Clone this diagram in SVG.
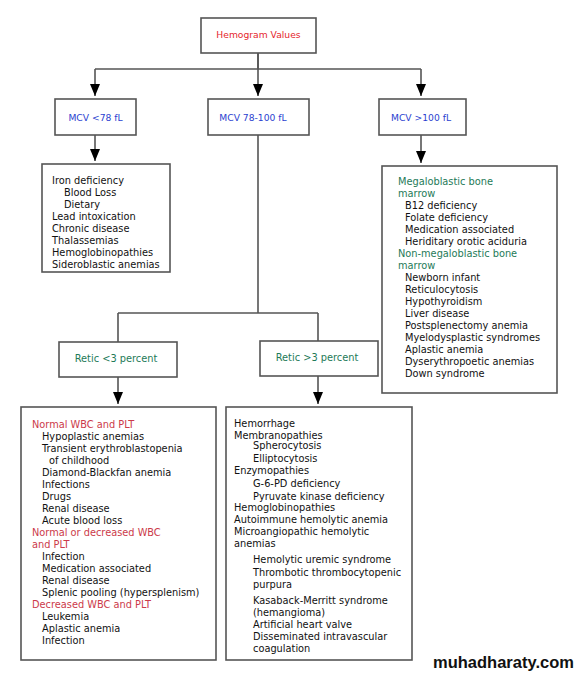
<svg xmlns="http://www.w3.org/2000/svg" width="582" height="678" viewBox="0 0 582 678">
<defs>
<marker id="ah" markerUnits="userSpaceOnUse" markerWidth="14" markerHeight="12" viewBox="0 0 14 12" refX="13" refY="6" orient="auto">
<path d="M1,1 L13,6 L1,11 Z" fill="#000"/>
</marker>
</defs>
<style>
.box{fill:#fff;stroke:#555;stroke-width:1.6}
.ln{fill:none;stroke:#555;stroke-width:1.6}
.arr{fill:none;stroke:#555;stroke-width:1.6}
text{font-family:"DejaVu Sans","Verdana",sans-serif;font-size:9.8px;fill:#111}
.lbl{font-size:9.2px;text-anchor:middle}
.rl{font-size:9.8px}
.red{fill:#e5252c}
.blue{fill:#2b3fd0}
.green{fill:#1e7a58}
.crim{fill:#cc3a4a}
.wm{font-family:"Liberation Sans",Arial,sans-serif;font-weight:bold;font-size:16.5px;fill:#111}
</style>
<rect width="582" height="678" fill="#fff"/>
<g id="connectors">
<path class="ln" d="M258,53 V69 M95,69 H421"/>
<path class="arr" d="M95,69 V96" marker-end="url(#ah)"/>
<path class="arr" d="M258,53 V96" marker-end="url(#ah)"/>
<path class="arr" d="M421,69 V96" marker-end="url(#ah)"/>
<path class="arr" d="M95,135 V161" marker-end="url(#ah)"/>
<path class="arr" d="M421,135 V163" marker-end="url(#ah)"/>
<path class="ln" d="M258,135 V313 M118,313 H318 M118,313 V342 M318,313 V341"/>
<path class="arr" d="M118,377 V404" marker-end="url(#ah)"/>
<path class="arr" d="M318,376 V404" marker-end="url(#ah)"/>
</g>
<g id="hemogram">
<rect class="box" x="201" y="18" width="115" height="35"/>
<text class="lbl red" x="258.5" y="38">Hemogram Values</text>
</g>
<g id="mcv-low">
<rect class="box" x="55" y="99" width="81" height="36"/>
<text class="lbl blue" x="95.5" y="121">MCV &lt;78 fL</text>
</g>
<g id="mcv-mid">
<rect class="box" x="208" y="99" width="101" height="36"/>
<text class="lbl blue" x="253" y="121">MCV 78-100 fL</text>
</g>
<g id="mcv-high">
<rect class="box" x="379" y="99" width="87" height="36"/>
<text class="lbl blue" x="421" y="121">MCV &gt;100 fL</text>
</g>
<g id="microcytic-list">
<rect class="box" x="42" y="164" width="128" height="108"/>
<text x="52" y="184">Iron deficiency</text>
<text x="64" y="196">Blood Loss</text>
<text x="64" y="208">Dietary</text>
<text x="52" y="220">Lead intoxication</text>
<text x="52" y="232">Chronic disease</text>
<text x="52" y="244">Thalassemias</text>
<text x="52" y="256">Hemoglobinopathies</text>
<text x="52" y="268">Sideroblastic anemias</text>
</g>
<g id="macrocytic-list">
<rect class="box" x="382" y="166" width="175" height="227"/>
<text class="green" x="398" y="185">Megaloblastic bone</text>
<text class="green" x="398" y="197">marrow</text>
<text x="405" y="209">B12 deficiency</text>
<text x="405" y="221">Folate deficiency</text>
<text x="405" y="233">Medication associated</text>
<text x="405" y="245">Heriditary orotic aciduria</text>
<text class="green" x="398" y="257">Non-megaloblastic bone</text>
<text class="green" x="398" y="269">marrow</text>
<text x="405" y="281">Newborn infant</text>
<text x="405" y="293">Reticulocytosis</text>
<text x="405" y="305">Hypothyroidism</text>
<text x="405" y="317">Liver disease</text>
<text x="405" y="329">Postsplenectomy anemia</text>
<text x="405" y="341">Myelodysplastic syndromes</text>
<text x="405" y="353">Aplastic anemia</text>
<text x="405" y="365">Dyserythropoetic anemias</text>
<text x="405" y="377">Down syndrome</text>
</g>
<g id="retic-low">
<rect class="box" x="59" y="342" width="118" height="35"/>
<text class="lbl rl green" x="116" y="362">Retic &lt;3 percent</text>
</g>
<g id="retic-high">
<rect class="box" x="260" y="341" width="118" height="35"/>
<text class="lbl rl green" x="317" y="361">Retic &gt;3 percent</text>
</g>
<g id="retic-low-list">
<rect class="box" x="21" y="407" width="195" height="253"/>
<text class="crim" x="32" y="428">Normal WBC and PLT</text>
<text x="42" y="440">Hypoplastic anemias</text>
<text x="42" y="452">Transient erythroblastopenia</text>
<text x="49" y="464">of childhood</text>
<text x="42" y="476">Diamond-Blackfan anemia</text>
<text x="42" y="488">Infections</text>
<text x="42" y="500">Drugs</text>
<text x="42" y="512">Renal disease</text>
<text x="42" y="524">Acute blood loss</text>
<text class="crim" x="32" y="536">Normal or decreased WBC</text>
<text class="crim" x="32" y="548">and PLT</text>
<text x="42" y="560">Infection</text>
<text x="42" y="572">Medication associated</text>
<text x="42" y="584">Renal disease</text>
<text x="42" y="596">Splenic pooling (hypersplenism)</text>
<text class="crim" x="32" y="608">Decreased WBC and PLT</text>
<text x="42" y="620">Leukemia</text>
<text x="42" y="632">Aplastic anemia</text>
<text x="42" y="644">Infection</text>
</g>
<g id="retic-high-list">
<rect class="box" x="226" y="407" width="186" height="253"/>
<text x="234" y="427">Hemorrhage</text>
<text x="234" y="439">Membranopathies</text>
<text x="253" y="449">Spherocytosis</text>
<text x="253" y="462">Elliptocytosis</text>
<text x="234" y="474">Enzymopathies</text>
<text x="253" y="487">G-6-PD deficiency</text>
<text x="253" y="500">Pyruvate kinase deficiency</text>
<text x="234" y="511">Hemoglobinopathies</text>
<text x="234" y="523">Autoimmune hemolytic anemia</text>
<text x="234" y="535">Microangiopathic hemolytic</text>
<text x="234" y="547">anemias</text>
<text x="253" y="563">Hemolytic uremic syndrome</text>
<text x="253" y="576">Thrombotic thrombocytopenic</text>
<text x="253" y="588">purpura</text>
<text x="253" y="604">Kasaback-Merritt syndrome</text>
<text x="253" y="616">(hemangioma)</text>
<text x="253" y="628">Artificial heart valve</text>
<text x="253" y="640">Disseminated intravascular</text>
<text x="253" y="652">coagulation</text>
</g>
<text class="wm" x="433" y="668">muhadharaty.com</text>
</svg>
